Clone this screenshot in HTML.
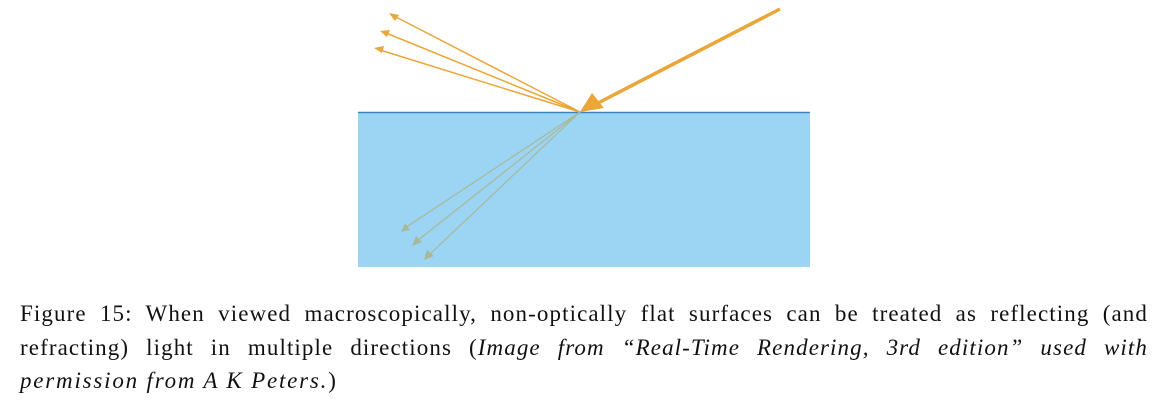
<!DOCTYPE html>
<html><head><meta charset="utf-8"><style>
body{margin:0;width:1161px;height:401px;background:#fff;overflow:hidden;position:relative}
svg{position:absolute;left:0;top:0}
#cap{position:absolute;left:20px;top:297px;width:1128px;font-family:"Liberation Serif",serif;font-size:23px;letter-spacing:1.1px;line-height:33.5px;color:#111}
.l{text-align:justify;text-align-last:justify;white-space:nowrap}
.l.last{text-align-last:left;letter-spacing:1.8px}
</style></head><body>
<svg width="1161" height="290">
<rect x="358" y="112" width="452" height="155" fill="#9bd5f3"/>
<line x1="358" y1="112.5" x2="810" y2="112.5" stroke="#3a86c0" stroke-width="1.5"/>
<g>
<line x1="780" y1="9" x2="598" y2="103" stroke="#eaa638" stroke-width="3.5"/>
<polygon points="580,112 592,93 604,108" fill="#eaa638"/>
</g>
<g stroke="#eaa638" stroke-width="1.5" fill="#eaa638">
<g><line x1="580" y1="112" x2="394" y2="16"/><polygon points="389,13 399,15 395,21" stroke="none"/></g>
<g><line x1="580" y1="112" x2="386" y2="33"/><polygon points="380,31 390,30 387,37" stroke="none"/></g>
<g><line x1="580" y1="112" x2="380" y2="50"/><polygon points="374,48 384,46 382,53" stroke="none"/></g>
</g>
<g stroke="#a8b89c" stroke-width="1.2" fill="#a8b89c">
<g><line x1="580" y1="112" x2="405" y2="228"/><polygon points="401,232 405,223 410,230" stroke="none"/></g>
<g><line x1="580" y1="112" x2="417" y2="241"/><polygon points="412,246 416,236 422,242" stroke="none"/></g>
<g><line x1="580" y1="112" x2="429" y2="255"/><polygon points="424,260 427,250 434,256" stroke="none"/></g>
</g>
</svg>
<div id="cap">
<div class="l">Figure 15: When viewed macroscopically, non-optically flat surfaces can be treated as reflecting (and</div>
<div class="l">refracting) light in multiple directions (<i>Image from “Real-Time Rendering, 3rd edition” used with</i></div>
<div class="l last"><i>permission from A K Peters.</i>)</div>
</div>
</body></html>
